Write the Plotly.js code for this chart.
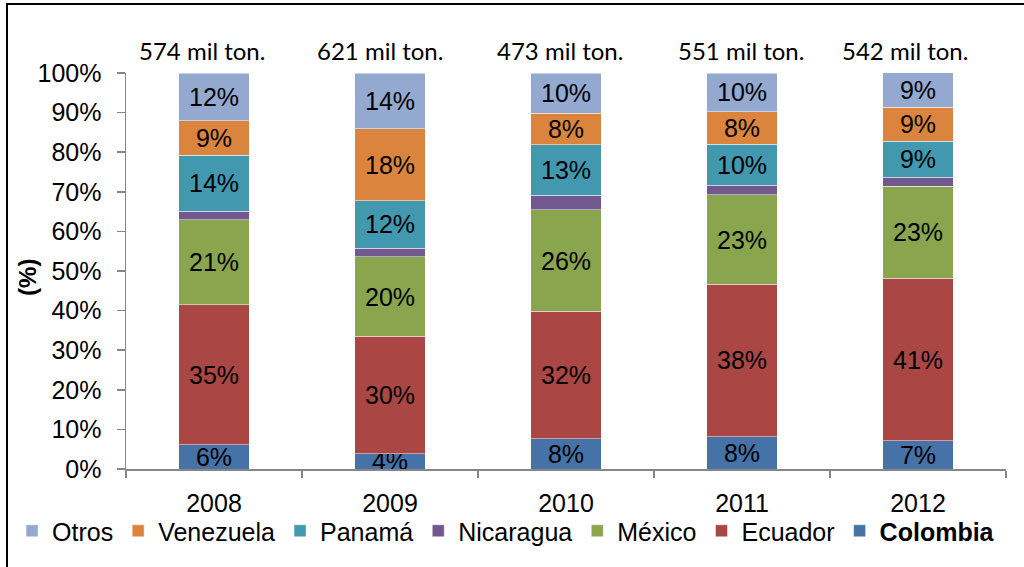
<!DOCTYPE html>
<html>
<head>
<meta charset="utf-8">
<script src="https://cdn.plot.ly/plotly-3.0.1.min.js"></script>
<style>
  html, body { margin: 0; padding: 0; background: #ffffff; }
  #wrap { position: relative; width: 1024px; height: 567px; overflow: hidden; }
  #chart { width: 1024px; height: 567px; }
  #frame { position: absolute; left: 6px; top: 3px; width: 1100px; height: 700px;
           border-left: 2px solid #000; border-top: 2px solid #000; pointer-events: none; }
</style>
</head>
<body>
<div id="wrap">
  <div id="chart"></div>
  <div id="frame"></div>
</div>
<script>
// Years (categories)
const years = ["2008", "2009", "2010", "2011", "2012"];
// Total volume per year (mil ton.)
const totals = [574, 621, 473, 551, 542];

// Share (%) of each origin per year
const colombia  = [6.1, 3.8, 7.6, 8.2, 7.1];
const ecuador   = [35.4, 29.7, 32.2, 38.4, 41.1];
const mexico    = [21.4, 20.1, 25.7, 22.6, 23.2];
const nicaragua = [2.2, 2.2, 3.6, 2.5, 2.3];
const panama    = [14.1, 12.0, 12.8, 10.3, 9.1];
const venezuela = [8.8, 18.1, 8.0, 8.2, 8.6];
const otros     = [11.95, 14.1, 10.1, 9.8, 8.7];

const seriesNames = ["<b>Colombia</b>", "Ecuador", "México", "Nicaragua", "Panamá", "Venezuela", "Otros"];
const seriesData  = [colombia, ecuador, mexico, nicaragua, panama, venezuela, otros];
const seriesColors = ["#4572A7", "#AA4643", "#89A54E", "#71588F", "#4198AF", "#DB843D", "#93A9CF"];
const showLabel = [true, true, true, false, true, true, true];

const FONT = "Liberation Sans, Arial, sans-serif";
const FS = 25;

const traces = seriesData.map((vals, i) => ({
  type: "bar",
  name: seriesNames[i],
  x: years,
  y: vals,
  marker: { color: seriesColors[i], line: { color: "rgba(255,255,255,0.6)", width: 0.8 } },
  texttemplate: showLabel[i] ? "%{y:.0f}%" : "",
  textposition: "inside",
  insidetextanchor: "middle",
  textangle: 0,
  constraintext: "none",
  insidetextfont: { family: FONT, size: FS, color: "#000000" },
  hoverinfo: "skip"
}));

// Total annotations placed over each category (category index on a category axis);
// the text boxes in the original sit slightly left of each bar centre
const totalLabelShift = [-12, -10, -6, -1, -13];
const annotations = years.map((yr, i) => ({
  xref: "x", yref: "paper",
  x: i, y: 1.0556,
  xshift: totalLabelShift[i],
  yanchor: "middle", xanchor: "center",
  text: totals[i] + " mil ton.",
  showarrow: false,
  font: { family: "Lato, Carlito, Calibri, sans-serif", size: 24, color: "#000000" }
}));
// Y axis title
annotations.push({
  xref: "paper", yref: "paper",
  x: -0.1114, y: 0.485,
  xanchor: "center", yanchor: "middle",
  textangle: -90,
  text: "<b>(%)</b>",
  showarrow: false,
  font: { family: FONT, size: 24, color: "#000000" }
});

const layout = {
  width: 1024, height: 567,
  margin: { l: 126, r: 18, t: 73, b: 98, pad: 0 },
  paper_bgcolor: "#ffffff",
  plot_bgcolor: "#ffffff",
  barmode: "stack",
  bargap: 0.6,
  font: { family: FONT, size: FS, color: "#000000" },
  showlegend: true,
  legend: {
    orientation: "h",
    traceorder: "reversed",
    x: -0.1295, xanchor: "left",
    y: -0.1566, yanchor: "middle",
    font: { family: FONT, size: FS, color: "#000000" },
    itemwidth: 30,
    bgcolor: "rgba(0,0,0,0)"
  },
  xaxis: {
    type: "category",
    range: [-0.5, 4.5],
    showline: true, linecolor: "#868686", linewidth: 1.5,
    ticks: "outside", tickson: "boundaries", ticklen: 7, tickcolor: "#868686", tickwidth: 1.5,
    ticklabelstandoff: 11,
    tickangle: 0,
    tickfont: { family: FONT, size: FS, color: "#000000" },
    showgrid: false, zeroline: false,
    automargin: false,
    fixedrange: true
  },
  yaxis: {
    range: [0, 100],
    dtick: 10, tick0: 0,
    ticksuffix: "%",
    showline: true, linecolor: "#868686", linewidth: 1.5,
    ticks: "outside", ticklen: 8, tickcolor: "#868686", tickwidth: 1.5,
    ticklabelstandoff: 10,
    tickfont: { family: FONT, size: FS, color: "#000000" },
    showgrid: false, zeroline: false,
    automargin: false,
    fixedrange: true
  },
  annotations: annotations
};

Plotly.newPlot("chart", traces, layout, { staticPlot: true, displayModeBar: false });
</script>
</body>
</html>
